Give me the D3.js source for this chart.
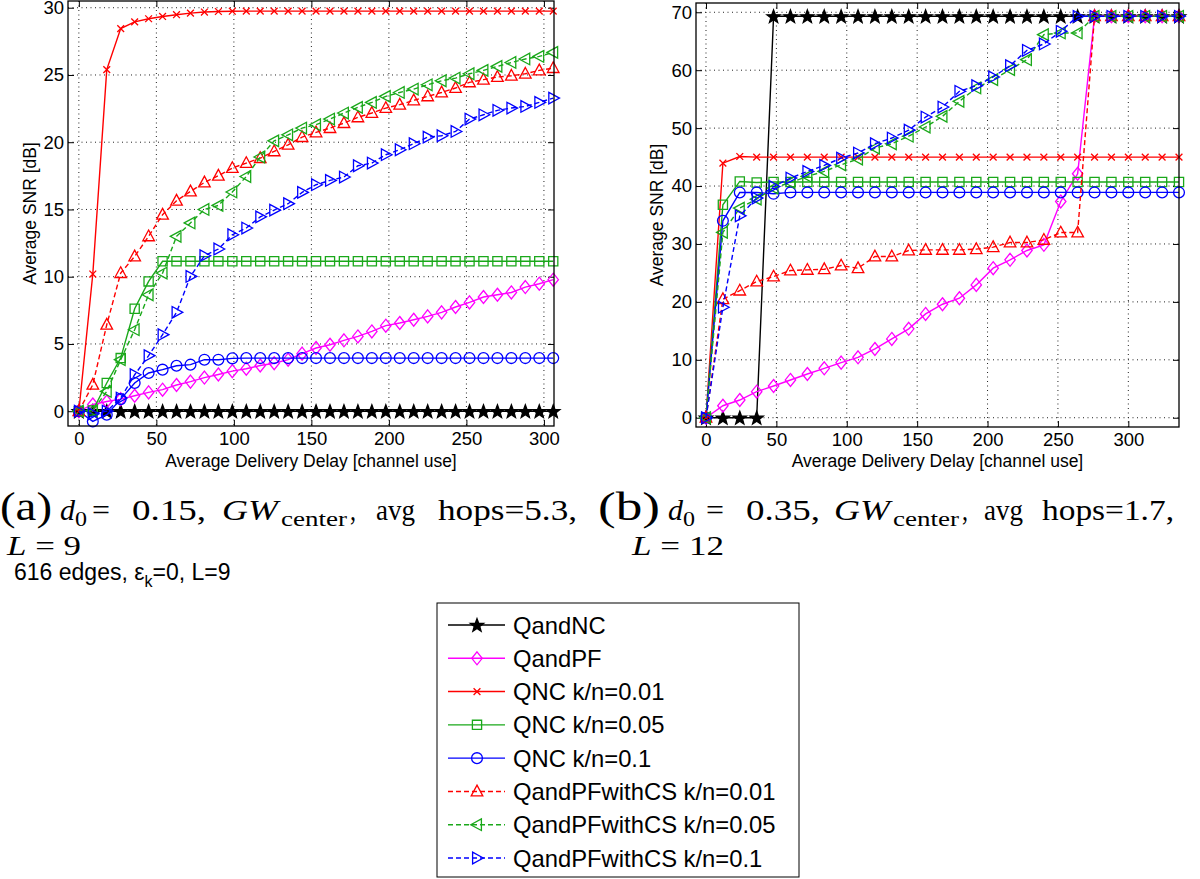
<!DOCTYPE html>
<html><head><meta charset="utf-8">
<script src="https://cdn.jsdelivr.net/npm/d3@7"></script>
<style>
body{margin:0;background:#fff;}
svg{display:block;}
text{font-family:"Liberation Sans",Arial,Helvetica,sans-serif;fill:#000;}
.serif{font-family:"Liberation Serif","Times New Roman",serif;}
</style></head><body>
<svg id="c" width="1200" height="879"></svg>
<script>
// ---------------- DATA ----------------
const seriesNames = ["QandNC","QandPF","QNC k/n=0.01","QNC k/n=0.05","QNC k/n=0.1",
  "QandPFwithCS k/n=0.01","QandPFwithCS k/n=0.05","QandPFwithCS k/n=0.1"];

// Panel (a): delay values
const delayA = [0,9,18,27,36,45,54,63,72,81,90,99,108,117,126,135,144,153,162,171,180,189,198,207,216,225,234,243,252,261,270,279,288,297,306];
const qandncA = [0,0,0,0,0,0,0,0,0,0,0,0,0,0,0,0,0,0,0,0,0,0,0,0,0,0,0,0,0,0,0,0,0,0,0];
const qandpfA = [0,0.5,0.72,0.9,1.15,1.4,1.6,1.95,2.2,2.5,2.73,2.98,3.16,3.4,3.57,3.83,4.28,4.7,4.94,5.27,5.56,5.93,6.36,6.56,6.8,7.05,7.35,7.75,8.09,8.49,8.66,8.83,9.23,9.48,9.78];
const qnc001A = [0,10.2,25.4,28.45,28.95,29.18,29.35,29.48,29.6,29.68,29.72,29.74,29.75,29.75,29.75,29.75,29.75,29.75,29.75,29.75,29.75,29.75,29.75,29.75,29.75,29.75,29.75,29.75,29.75,29.75,29.75,29.75,29.75,29.75,29.75];
const qnc005A = [0,0.05,2.1,3.95,7.62,9.65,11.15,11.15,11.15,11.15,11.15,11.15,11.15,11.15,11.15,11.15,11.15,11.15,11.15,11.15,11.15,11.15,11.15,11.15,11.15,11.15,11.15,11.15,11.15,11.15,11.15,11.15,11.15,11.15,11.15];
const qnc01A = [0,-0.76,-0.26,0.9,2.1,2.84,3.09,3.38,3.46,3.83,3.83,3.93,3.95,3.95,3.95,3.95,3.95,3.95,3.95,3.95,3.95,3.95,3.95,3.95,3.95,3.95,3.95,3.95,3.95,3.95,3.95,3.95,3.95,3.95,3.95];
const pfcs001A = [0,1.97,6.43,10.27,11.51,13.0,14.61,15.65,16.34,17.01,17.51,18.08,18.45,18.82,19.32,19.81,20.38,20.73,21.05,21.42,21.85,22.17,22.54,22.79,23.11,23.41,23.7,24.03,24.45,24.65,24.85,24.94,25.09,25.34,25.51];
const pfcs005A = [0,0.05,1.47,3.83,6.06,8.66,10.27,13.0,14.0,15.0,15.3,16.3,17.45,18.9,20.1,20.55,21.05,21.3,21.72,22.17,22.59,22.96,23.41,23.7,23.95,24.27,24.57,24.77,25.09,25.34,25.64,25.93,26.19,26.38,26.68];
const pfcs01A = [0,-0.19,0,0.98,2.71,4.13,5.69,7.35,10.02,11.56,12.06,13.12,13.62,14.45,14.95,15.43,16.27,16.84,17.16,17.41,18.25,18.45,19.07,19.44,19.89,20.38,20.48,20.8,21.72,22.04,22.37,22.54,22.66,22.96,23.28];

// Panel (b)
const delayB = [0,12,24,36,48,60,72,84,96,108,120,132,144,156,168,180,192,204,216,228,240,252,264,276,288,300,312,324,336];
const qandncB = [0,0,0,0,69.3,69.3,69.3,69.3,69.3,69.3,69.3,69.3,69.3,69.3,69.3,69.3,69.3,69.3,69.3,69.3,69.3,69.3,69.3,69.3,69.3,69.3,69.3,69.3,69.3];
const qandpfB = [0,2.07,3.06,4.5,5.48,6.52,7.55,8.53,9.51,10.43,11.87,13.6,15.35,17.92,19.59,20.63,22.93,25.82,27.26,28.87,29.85,37.33,42.12,69.3,69.3,69.3,69.3,69.3,69.3];
const qnc001B = [0,43.95,45.1,45.0,45.0,45.0,45.0,45.0,45.0,45.0,45.0,45.0,45.0,45.0,45.0,45.0,45.0,45.0,45.0,45.0,45.0,45.0,45.0,45.0,45.0,45.0,45.0,45.0,45.0];
const qnc005B = [0,36.76,40.79,40.62,40.7,40.7,40.7,40.7,40.7,40.7,40.7,40.7,40.7,40.7,40.7,40.7,40.7,40.7,40.7,40.7,40.7,40.7,40.7,40.7,40.7,40.7,40.7,40.7,40.7];
const qnc01B = [0,34.0,38.89,38.9,38.66,38.9,38.9,38.9,38.9,38.9,38.9,38.9,38.9,38.9,38.9,38.9,38.9,38.9,38.9,38.9,38.9,38.9,38.9,38.9,38.9,38.9,38.9,38.9,38.9];
const pfcs001B = [0,20.46,21.95,23.51,24.37,25.41,25.53,25.64,26.27,25.82,27.83,27.83,28.87,28.98,28.98,28.98,29.1,29.45,30.25,30.25,30.71,31.97,31.97,69.3,69.3,69.3,69.3,69.3,69.3];
const pfcs005B = [0,32.0,36.19,37.74,39.65,40.62,41.66,42.52,43.67,44.66,46.56,47.3,48.6,50.19,52.03,54.62,56.93,58.37,60.1,61.82,66.14,66.43,66.43,69.3,69.3,69.3,69.3,69.3,69.3];
const pfcs01B = [0,19.08,34.86,37.92,39.92,41.37,42.52,43.56,44.83,45.7,47.3,48.29,49.65,51.91,53.64,56.35,57.33,58.83,60.78,63.43,64.53,66.71,69.3,69.3,69.3,69.3,69.3,69.3,69.3];

const xTicksA = [0,50,100,150,200,250,300];
const yTicksA = [0,5,10,15,20,25,30];
const xTicksB = [0,50,100,150,200,250,300];
const yTicksB = [0,10,20,30,40,50,60,70];

const xLabel = "Average Delivery Delay [channel use]";
const yLabel = "Average SNR [dB]";

// ---------------- STYLE ----------------
const GREEN = "#1aa81a";
const styles = [
  {color:"#000", marker:"star", dash:null},
  {color:"#ff00ff", marker:"diamond", dash:null},
  {color:"#ff0000", marker:"x", dash:null},
  {color:GREEN, marker:"square", dash:null},
  {color:"#0000ff", marker:"circle", dash:null},
  {color:"#ff0000", marker:"up", dash:"5,3"},
  {color:GREEN, marker:"left", dash:"5,3"},
  {color:"#0000ff", marker:"right", dash:"5,3"}
];

function markerPath(t){
  switch(t){
    case "star": {
      const p=[]; for(let k=0;k<10;k++){const r=k%2?2.9:7;const a=-Math.PI/2+k*Math.PI/5;p.push([ (r*Math.cos(a)).toFixed(2),(r*Math.sin(a)+0.6).toFixed(2)]);}
      return "M"+p.map(d=>d.join(",")).join("L")+"Z";}
    case "diamond": return "M0,-6.5L5.2,0L0,6.5L-5.2,0Z";
    case "x": return "M-3.4,-3.4L3.4,3.4M-3.4,3.4L3.4,-3.4";
    case "square": return "M-4.6,-4.6H4.6V4.6H-4.6Z";
    case "circle": return d3.symbol(d3.symbolCircle, Math.PI*5.4*5.4)();
    case "up": return "M0,-6.3L5.8,4.4L-5.8,4.4Z";
    case "left": return "M-6.3,0L4.4,-5.8L4.4,5.8Z";
    case "right": return "M6.3,0L-4.4,-5.8L-4.4,5.8Z";
  }
}

const svg = d3.select("#c");

function drawPanel(box, xDom, yDom, xTicks, yTicks, xData, ys, ylabX){
  const x = d3.scaleLinear().domain(xDom).range([box.l, box.r]);
  const y = d3.scaleLinear().domain(yDom).range([box.b, box.t]);
  const g = svg.append("g");
  // grid
  g.selectAll(".gx").data(xTicks).join("line")
    .attr("x1",d=>x(d)).attr("x2",d=>x(d)).attr("y1",box.t).attr("y2",box.b)
    .attr("stroke","#222").attr("stroke-width",1).attr("stroke-dasharray","1,3.5");
  g.selectAll(".gy").data(yTicks).join("line")
    .attr("y1",d=>y(d)).attr("y2",d=>y(d)).attr("x1",box.l).attr("x2",box.r)
    .attr("stroke","#222").attr("stroke-width",1).attr("stroke-dasharray","1,3.5");
  // axes
  const ax = (gen, tr) => {
    const a = g.append("g").attr("transform",tr).call(gen);
    a.select(".domain").remove();
    a.selectAll("line").attr("stroke","#000").attr("stroke-width",1);
    return a;
  };
  ax(d3.axisBottom(x).tickValues(xTicks).tickSizeInner(-6).tickSizeOuter(0).tickPadding(6), `translate(0,${box.b})`)
    .selectAll("text").attr("font-size",18.5).attr("font-family","Liberation Sans, Arial, sans-serif");
  ax(d3.axisTop(x).tickValues(xTicks).tickSizeInner(-6).tickSizeOuter(0).tickFormat(""), `translate(0,${box.t})`);
  ax(d3.axisLeft(y).tickValues(yTicks).tickSizeInner(-6).tickSizeOuter(0).tickPadding(4), `translate(${box.l},0)`)
    .selectAll("text").attr("font-size",18.5).attr("font-family","Liberation Sans, Arial, sans-serif");
  ax(d3.axisRight(y).tickValues(yTicks).tickSizeInner(-6).tickSizeOuter(0).tickFormat(""), `translate(${box.r},0)`);
  // series
  ys.forEach((vals,i)=>{
    const st = styles[i];
    const pts = xData.map((d,j)=>[d,vals[j]]);
    g.append("path").datum(pts)
      .attr("d", d3.line().x(d=>x(d[0])).y(d=>y(d[1])))
      .attr("fill","none").attr("stroke",st.color).attr("stroke-width",1.4)
      .attr("stroke-dasharray",st.dash);
    g.selectAll(null).data(pts).join("path")
      .attr("transform",d=>`translate(${x(d[0])},${y(d[1])})`)
      .attr("d",markerPath(st.marker))
      .attr("fill",st.marker==="star"?st.color:"none")
      .attr("stroke",st.color).attr("stroke-width",1.3);
  });
  // box
  g.append("rect").attr("x",box.l).attr("y",box.t).attr("width",box.r-box.l).attr("height",box.b-box.t)
    .attr("fill","none").attr("stroke","#000").attr("stroke-width",1.3);
  // labels
  g.append("text").attr("x",(box.l+box.r)/2).attr("y",467).attr("text-anchor","middle")
    .attr("font-size",17.5).text(xLabel);
  g.append("text").attr("transform",`translate(${ylabX},${(box.t+box.b)/2}) rotate(-90)`)
    .attr("text-anchor","middle").attr("dy","0.35em").attr("font-size",17.5).text(yLabel);
}

drawPanel({l:68,r:554,t:1,b:426},[-7,306.5],[-1.1,30.5],xTicksA,yTicksA,delayA,
  [qandncA,qandpfA,qnc001A,qnc005A,qnc01A,pfcs001A,pfcs005A,pfcs01A],30);
drawPanel({l:696,r:1179,t:3,b:427},[-7.1,336],[-1.6,71.6],xTicksB,yTicksB,delayB,
  [qandncB,qandpfB,qnc001B,qnc005B,qnc01B,pfcs001B,pfcs005B,pfcs01B],657);

// ---------------- CAPTIONS ----------------
function seg(g, x, y, s, w, fs, italic){
  const t = g.append("text").attr("class","serif").attr("x",x).attr("y",y)
    .attr("font-size",fs).attr("font-style",italic?"italic":"normal").text(s);
  if(w) t.attr("textLength",w).attr("lengthAdjust","spacingAndGlyphs");
  return t;
}
function caption(pos, letter, d0, hops, Lval){
  const g = svg.append("g");
  const base = 520;
  seg(g,pos.p,base,`(${letter})`,pos.pw,40,false);
  seg(g,pos.d,base,"d",15,29,true);
  seg(g,pos.d+15,base+6,"0",12,20,false);
  seg(g,pos.eq,base,"=",18,29,false);
  seg(g,pos.v,base,d0+",",74,29,false);
  seg(g,pos.gw,base,"GW",56,29,true);
  seg(g,pos.gw+59,base+6,"center",66,20,false);
  seg(g,pos.gw+128,base,",",6,29,false);
  seg(g,pos.avg,base,"avg",39,29,false);
  seg(g,pos.hops,base,"hops="+hops+",",pos.hw,29,false);
  const L = g.append("text").attr("class","serif").attr("x",pos.L).attr("y",555).attr("font-size",27);
  L.append("tspan").attr("font-style","italic").text("L");
  L.append("tspan").text(" = "+Lval);
  L.attr("textLength",pos.Lw).attr("lengthAdjust","spacingAndGlyphs");
}
caption({p:0,pw:52,d:60,eq:92,v:132,gw:222,avg:376,hops:438,hw:139,L:7,Lw:74},"a","0.15","5.3","9");
caption({p:598,pw:62,d:668,eq:706,v:746,gw:834,avg:984,hops:1042,hw:132,L:632,Lw:92},"b","0.35","1.7","12");

const note = svg.append("text").attr("x",14).attr("y",580).attr("font-size",23);
note.append("tspan").text("616 edges, ε");
note.append("tspan").attr("font-size",16).attr("dy",7).text("k");
note.append("tspan").attr("dy",-7).text("=0, L=9");

// ---------------- LEGEND ----------------
const lg = svg.append("g");
lg.append("rect").attr("x",437).attr("y",603).attr("width",362).attr("height",274)
  .attr("fill","#fff").attr("stroke","#000").attr("stroke-width",1);
const ly = d3.scalePoint().domain(seriesNames).range([625,858]);
seriesNames.forEach((n,i)=>{
  const st = styles[i], yy = ly(n);
  lg.append("line").attr("x1",448).attr("x2",505).attr("y1",yy).attr("y2",yy)
    .attr("stroke",st.color).attr("stroke-width",1.4).attr("stroke-dasharray",st.dash);
  lg.append("path").attr("transform",`translate(477,${yy})`).attr("d",markerPath(st.marker))
    .attr("fill",st.marker==="star"?st.color:"none").attr("stroke",st.color).attr("stroke-width",1.3);
  lg.append("text").attr("x",513).attr("y",yy).attr("dy","0.36em").attr("font-size",23.8).text(n);
});
</script>
</body></html>
